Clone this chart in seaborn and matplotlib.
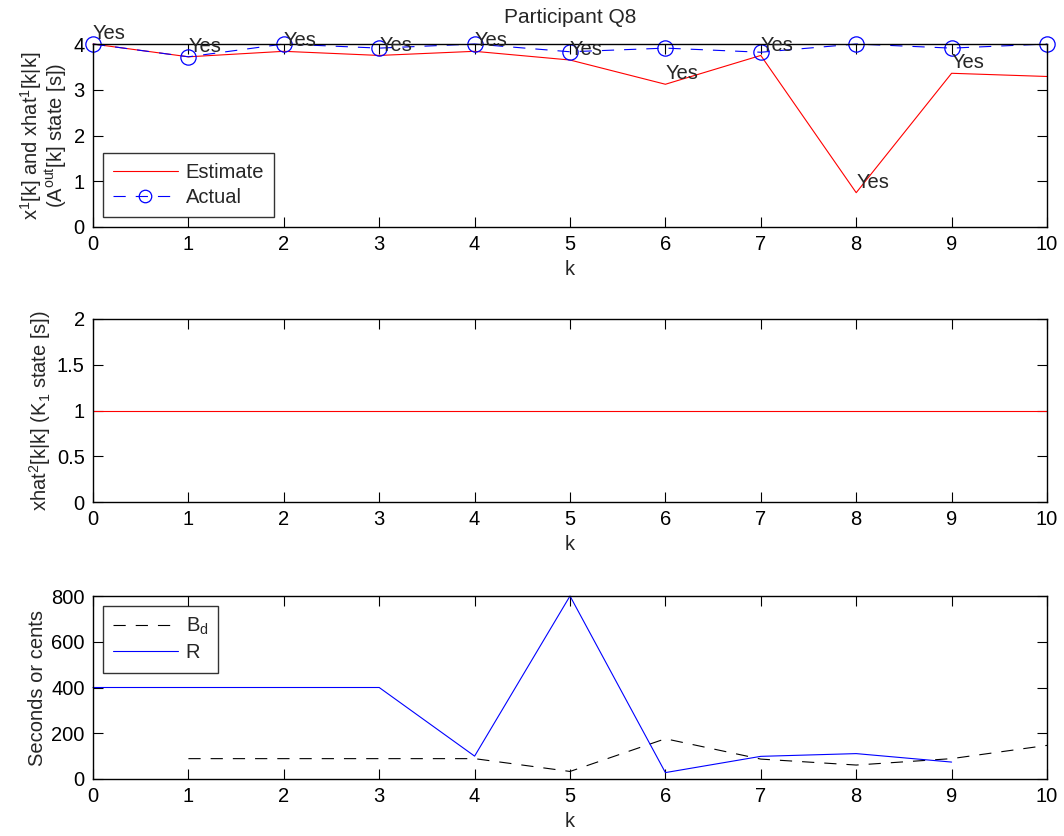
import numpy as np
import pandas as pd
import matplotlib
matplotlib.use("Agg")
import matplotlib.pyplot as plt
import seaborn as sns

sns.set_style("ticks")
plt.rcParams['font.family'] = ['Liberation Sans', 'DejaVu Sans']
plt.rcParams['mathtext.fontset'] = 'custom'
plt.rcParams['mathtext.rm'] = 'Liberation Sans'
plt.rcParams['mathtext.it'] = 'Liberation Sans'
plt.rcParams['mathtext.default'] = 'regular'

# Dados
k = [0, 1, 2, 3, 4, 5, 6, 7, 8, 9, 10]
estimate = [4.0, 3.72, 3.84, 3.75, 3.84, 3.65, 3.12, 3.75, 0.75, 3.36, 3.29]
actual = [4.0, 3.72, 4.0, 3.91, 4.0, 3.83, 3.91, 3.82, 4.0, 3.91, 4.0]
answers = ['Yes'] * 10  # k = 0..9
xhat2 = [1.0] * 11
k_bd = [1, 2, 3, 4, 5, 6, 7, 8, 9, 10]
bd = [89, 89, 89, 89, 33, 176, 87, 61, 89, 147]
k_r = [0, 1, 2, 3, 4, 5, 6, 7, 8, 9]
r = [400, 400, 400, 400, 100, 800, 28, 99, 111, 74]

FS = 14.5
LW = 0.8

fig = plt.figure(figsize=(10.64, 8.36), dpi=100)
left, width = 93 / 1064, (1047 - 93) / 1064
h = 183 / 836
ax1 = fig.add_axes([left, 1 - 227 / 836, width, h])
ax2 = fig.add_axes([left, 1 - 502 / 836, width, h])
ax3 = fig.add_axes([left, 1 - 779 / 836, width, h])


def style_axes(ax):
    ax.set_xlim(0, 10)
    ax.set_xticks(range(0, 11))
    ax.tick_params(direction='in', top=True, right=True, length=7, width=0.8,
                   labelsize=FS, colors='black', pad=6)
    for s in ax.spines.values():
        s.set_visible(True)
        s.set_color('black')
        s.set_linewidth(1.0)
    ax.set_xlabel('k', fontsize=FS, labelpad=4)


def make_legend(ax, loc):
    leg = ax.legend(loc=loc, fontsize=FS, frameon=True, fancybox=False,
                    edgecolor='black', borderaxespad=0.5, handlelength=3.2,
                    handletextpad=0.4, borderpad=0.5, labelspacing=0.3)
    leg.get_frame().set_linewidth(1.0)
    return leg


# Painel 1
sns.lineplot(x=k, y=estimate, ax=ax1, color='red', lw=LW, label='Estimate')
sns.lineplot(x=k, y=actual, ax=ax1, color='blue', lw=LW, label='Actual',
             marker='o', markersize=11, markerfacecolor='none',
             markeredgecolor='blue', markeredgewidth=0.9, dashes=(11, 9))
for line in ax1.lines:
    line.set_clip_on(False)
for i, txt in enumerate(answers):
    ax1.annotate(txt, (k[i], estimate[i]), xytext=(0, 7.5), textcoords='offset points',
                 ha='left', va='center', fontsize=FS, annotation_clip=False)
style_axes(ax1)
ax1.set_ylim(0, 4)
ax1.set_yticks([0, 1, 2, 3, 4])
ax1.set_ylabel('x$^1$[k] and xhat$^1$[k|k]\n(A$^{out}$[k] state [s])', fontsize=FS,
               linespacing=1.0, labelpad=3)
ax1.set_title('Participant Q8', fontsize=15, pad=15)
leg1 = make_legend(ax1, 'lower left')
leg1.legend_handles[1].set_markersize(9)

# Painel 2
sns.lineplot(x=k, y=xhat2, ax=ax2, color='red', lw=LW)
style_axes(ax2)
ax2.set_ylim(0, 2)
ax2.set_yticks([0, 0.5, 1, 1.5, 2])
ax2.set_yticklabels(['0', '0.5', '1', '1.5', '2'])
ax2.set_ylabel('xhat$^2$[k|k] (K$_1$ state [s])', fontsize=FS, labelpad=3)

# Painel 3
sns.lineplot(x=k_bd, y=bd, ax=ax3, color='black', lw=LW, label='B$_d$', dashes=(11, 9))
sns.lineplot(x=k_r, y=r, ax=ax3, color='blue', lw=LW, label='R')
for line in ax3.lines:
    line.set_clip_on(False)
style_axes(ax3)
ax3.set_ylim(0, 800)
ax3.set_yticks([0, 200, 400, 600, 800])
ax3.set_ylabel('Seconds or cents', fontsize=FS, labelpad=3)
make_legend(ax3, 'upper left')

fig.savefig('out.png', dpi=100)
